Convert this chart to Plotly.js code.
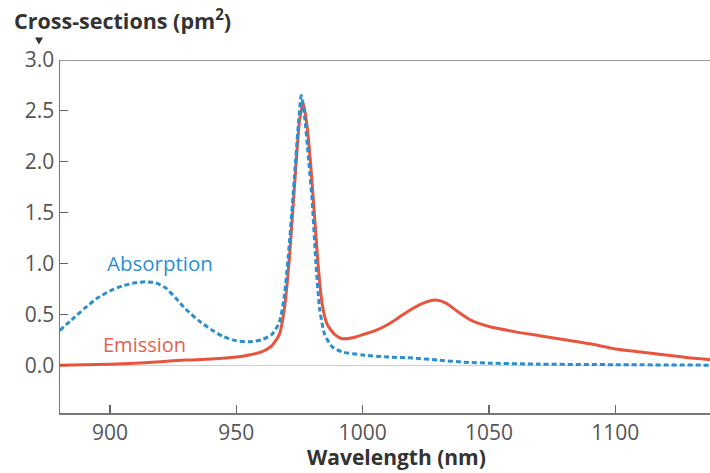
<!DOCTYPE html>
<html>
<head>
<meta charset="utf-8">
<script src="https://cdn.plot.ly/plotly-3.0.1.min.js"></script>
<style>html,body{margin:0;padding:0;background:#fff;overflow:hidden}</style>
</head>
<body>
<div id="chart" style="width:710px;height:473px"></div>
<script>
const absWavelength = [880,885,890,895,900,905,910,914,918,922,926,930,935,940,945,950,955,960,964,967,969,971,973,974.5,975.7,977,978.5,980,981.5,983,985,988,992,1000,1010,1020,1030,1040,1050,1070,1100,1140];
const absValues     = [0.34,0.45,0.56,0.66,0.73,0.78,0.81,0.82,0.81,0.76,0.66,0.55,0.44,0.35,0.28,0.24,0.23,0.25,0.30,0.42,0.68,1.20,1.85,2.35,2.65,2.45,2.05,1.62,1.00,0.55,0.30,0.18,0.13,0.10,0.08,0.07,0.05,0.03,0.02,0.01,0.005,0.0];

const emWavelength = [880,890,900,910,920,930,940,950,955,960,964,967,969,971,973,975,976.5,978,979.5,981,982.5,984,986,989,992,996,1000,1005,1010,1015,1020,1025,1029,1033,1038,1043,1050,1060,1070,1080,1090,1100,1110,1120,1130,1140];
const emValues     = [0.0,0.005,0.01,0.02,0.035,0.05,0.06,0.08,0.10,0.13,0.19,0.30,0.55,1.05,1.75,2.40,2.58,2.35,1.95,1.45,0.95,0.60,0.40,0.30,0.26,0.27,0.30,0.34,0.40,0.48,0.56,0.62,0.64,0.61,0.52,0.44,0.38,0.33,0.29,0.25,0.21,0.16,0.13,0.10,0.07,0.05];

const yTickVals = [0,0.5,1.0,1.5,2.0,2.5,3.0];
const yTickText = ['0.0','0.5','1.0','1.5','2.0','2.5','3.0'];
const xTickVals = [900,950,1000,1050,1100];
const xTickText = ['900','950','1000','1050','1100'];

const FONT = '"Open Sans", "Noto Sans", sans-serif';

const traces = [
  {x: emWavelength, y: emValues, type: 'scatter', mode: 'lines', name: 'Emission',
   line: {color: '#e8553e', width: 3, shape: 'spline', smoothing: 0.6}},
  {x: absWavelength, y: absValues, type: 'scatter', mode: 'lines', name: 'Absorption',
   line: {color: '#2a8fcf', width: 3, dash: '5px,3px', shape: 'spline', smoothing: 0.6}}
];

const layout = {
  width: 710, height: 473,
  margin: {l: 60, r: 0, t: 60, b: 60},
  paper_bgcolor: '#fff', plot_bgcolor: '#fff',
  showlegend: false,
  font: {family: FONT, color: '#555'},
  xaxis: {
    range: [880.2, 1137.5], autorange: false,
    tickvals: xTickVals, ticktext: xTickText,
    ticks: 'inside', ticklen: 8, tickwidth: 1.2, tickcolor: '#666',
    showline: true, linecolor: '#777', linewidth: 1.5,
    showgrid: false, zeroline: false,
    tickfont: {size: 21, color: '#555', family: FONT}
  },
  yaxis: {
    range: [-0.47, 3.0], autorange: false,
    tickvals: yTickVals, ticktext: yTickText,
    ticks: 'inside', ticklen: 8, tickwidth: 1.2, tickcolor: '#666',
    showline: true, linecolor: '#777', linewidth: 1.5,
    showgrid: false, zeroline: true, zerolinecolor: '#d0d0d0', zerolinewidth: 1,
    tickfont: {size: 21, color: '#555', family: FONT}
  },
  shapes: [
    {type: 'line', xref: 'paper', yref: 'y', x0: 0, x1: 1, y0: 3.0, y1: 3.0,
     line: {color: '#777', width: 1.5}},
    {type: 'path', xref: 'paper', yref: 'paper',
     path: 'M -0.03846 1.06374 L -0.02615 1.06374 L -0.03231 1.04391 Z',
     fillcolor: '#333', line: {width: 0}}
  ],
  annotations: [
    {xref: 'paper', yref: 'paper', x: -0.0738, y: 1.114, xanchor: 'left', yanchor: 'middle',
     text: '<b>Cross-sections (pm<sup>2</sup>)</b>', showarrow: false,
     font: {size: 21.5, color: '#333', family: FONT}},
    {xref: 'paper', yref: 'paper', x: 0.517, y: -0.125, xanchor: 'center', yanchor: 'middle',
     text: '<b>Wavelength (nm)</b>', showarrow: false,
     font: {size: 21, color: '#333', family: FONT}},
    {xref: 'x', yref: 'y', x: 919.8, y: 1.0, xanchor: 'center', yanchor: 'middle',
     text: 'Absorption', showarrow: false, font: {size: 20.5, color: '#2a8fcf', family: FONT}},
    {xref: 'x', yref: 'y', x: 913.6, y: 0.20, xanchor: 'center', yanchor: 'middle',
     text: 'Emission', showarrow: false, font: {size: 20, color: '#e5604e', family: FONT}}
  ]
};

Plotly.newPlot('chart', traces, layout, {displayModeBar: false, staticPlot: true});
</script>
</body>
</html>
